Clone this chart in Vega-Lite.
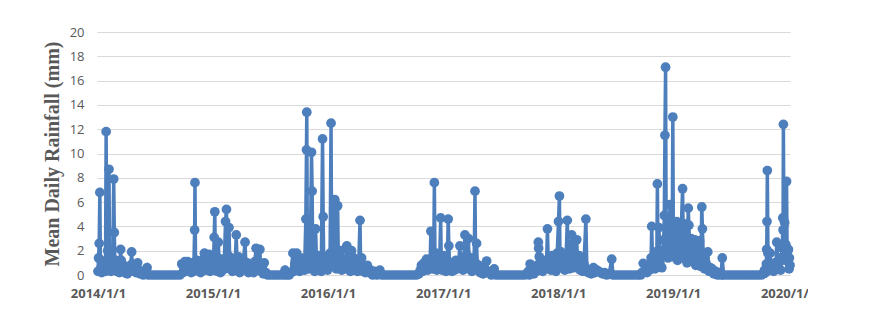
{
  "$schema": "https://vega.github.io/schema/vega-lite/v6.json",
  "width": 693,
  "height": 243,
  "autosize": {"type": "none"},
  "padding": {"left": 97, "top": 32, "right": 18, "bottom": 60},
  "background": "white",
  "config": {"view": {"stroke": null}},
  "data": {"values": [
    {"d":"2014-01-01","v":0.3},{"d":"2014-01-03","v":1.4},{"d":"2014-01-05","v":2.6},{"d":"2014-01-07","v":6.8},{"d":"2014-01-09","v":0.5},{"d":"2014-01-11","v":1.2},{"d":"2014-01-13","v":0.2},{"d":"2014-01-16","v":0.8},{"d":"2014-01-19","v":0.4},{"d":"2014-01-22","v":1.0},{"d":"2014-01-25","v":0.3},{"d":"2014-01-27","v":11.8},{"d":"2014-01-29","v":0.6},{"d":"2014-02-01","v":2.0},{"d":"2014-02-03","v":0.4},{"d":"2014-02-05","v":8.7},{"d":"2014-02-07","v":0.9},{"d":"2014-02-09","v":1.5},{"d":"2014-02-11","v":0.3},{"d":"2014-02-14","v":1.1},{"d":"2014-02-17","v":0.5},{"d":"2014-02-20","v":7.9},{"d":"2014-02-22","v":3.5},{"d":"2014-02-24","v":0.7},{"d":"2014-02-27","v":1.2},{"d":"2014-03-02","v":0.3},{"d":"2014-03-06","v":0.9},{"d":"2014-03-10","v":0.2},{"d":"2014-03-14","v":2.1},{"d":"2014-03-16","v":1.2},{"d":"2014-03-19","v":0.4},{"d":"2014-03-23","v":0.8},{"d":"2014-03-27","v":0.2},{"d":"2014-03-31","v":0.6},{"d":"2014-04-04","v":0.1},{"d":"2014-04-08","v":0.5},{"d":"2014-04-12","v":0.3},{"d":"2014-04-15","v":0.8},{"d":"2014-04-18","v":1.9},{"d":"2014-04-20","v":0.9},{"d":"2014-04-24","v":0.3},{"d":"2014-04-28","v":0.6},{"d":"2014-05-02","v":0.2},{"d":"2014-05-07","v":1.0},{"d":"2014-05-11","v":0.4},{"d":"2014-05-15","v":0.1},{"d":"2014-05-20","v":0.3},{"d":"2014-05-25","v":0.0},{"d":"2014-05-30","v":0.2},{"d":"2014-06-06","v":0.6},{"d":"2014-06-10","v":0.0},
    {"d":"2014-06-20","v":0},{"d":"2014-06-30","v":0},{"d":"2014-07-10","v":0},{"d":"2014-07-20","v":0},{"d":"2014-07-30","v":0},{"d":"2014-08-09","v":0},{"d":"2014-08-19","v":0},{"d":"2014-08-29","v":0},{"d":"2014-09-08","v":0},{"d":"2014-09-18","v":0},
    {"d":"2014-09-24","v":0.9},{"d":"2014-09-28","v":0.2},{"d":"2014-10-02","v":0.5},{"d":"2014-10-04","v":1.1},{"d":"2014-10-07","v":0.3},{"d":"2014-10-10","v":0.6},{"d":"2014-10-13","v":1.1},{"d":"2014-10-16","v":0.4},{"d":"2014-10-20","v":0.8},{"d":"2014-10-24","v":0.2},{"d":"2014-10-28","v":1.0},{"d":"2014-11-01","v":0.3},{"d":"2014-11-04","v":3.7},{"d":"2014-11-05","v":7.6},{"d":"2014-11-07","v":0.5},{"d":"2014-11-11","v":1.2},{"d":"2014-11-15","v":0.4},{"d":"2014-11-19","v":1.0},{"d":"2014-11-23","v":0.2},{"d":"2014-11-27","v":1.2},{"d":"2014-12-01","v":0.6},{"d":"2014-12-05","v":1.8},{"d":"2014-12-08","v":0.4},{"d":"2014-12-12","v":1.3},{"d":"2014-12-16","v":0.7},{"d":"2014-12-20","v":1.7},{"d":"2014-12-23","v":0.3},{"d":"2014-12-27","v":1.0},{"d":"2014-12-30","v":0.4},
    {"d":"2015-01-03","v":1.4},{"d":"2015-01-05","v":3.1},{"d":"2015-01-07","v":5.2},{"d":"2015-01-09","v":0.6},{"d":"2015-01-12","v":1.5},{"d":"2015-01-15","v":0.3},{"d":"2015-01-18","v":2.7},{"d":"2015-01-21","v":0.8},{"d":"2015-01-25","v":0.2},{"d":"2015-01-29","v":1.3},{"d":"2015-02-02","v":0.4},{"d":"2015-02-06","v":1.0},{"d":"2015-02-10","v":4.4},{"d":"2015-02-13","v":5.4},{"d":"2015-02-15","v":0.9},{"d":"2015-02-18","v":1.6},{"d":"2015-02-21","v":3.9},{"d":"2015-02-24","v":0.5},{"d":"2015-02-28","v":1.4},{"d":"2015-03-04","v":0.3},{"d":"2015-03-08","v":1.1},{"d":"2015-03-12","v":0.4},{"d":"2015-03-16","v":3.3},{"d":"2015-03-19","v":0.8},{"d":"2015-03-23","v":1.5},{"d":"2015-03-27","v":0.2},{"d":"2015-03-31","v":0.9},{"d":"2015-04-04","v":0.4},{"d":"2015-04-08","v":1.2},{"d":"2015-04-13","v":2.7},{"d":"2015-04-16","v":0.5},{"d":"2015-04-20","v":1.0},{"d":"2015-04-24","v":0.2},{"d":"2015-04-28","v":0.7},{"d":"2015-05-02","v":0.3},{"d":"2015-05-06","v":0.9},{"d":"2015-05-10","v":0.2},{"d":"2015-05-14","v":1.1},{"d":"2015-05-18","v":2.2},{"d":"2015-05-21","v":0.5},{"d":"2015-05-25","v":0.8},{"d":"2015-05-30","v":2.1},{"d":"2015-06-02","v":0.3},{"d":"2015-06-06","v":0.6},{"d":"2015-06-10","v":0.1},{"d":"2015-06-13","v":1.0},{"d":"2015-06-18","v":0.2},{"d":"2015-06-24","v":0.0},
    {"d":"2015-07-04","v":0},{"d":"2015-07-14","v":0},{"d":"2015-07-24","v":0},{"d":"2015-08-03","v":0},{"d":"2015-08-13","v":0},{"d":"2015-08-18","v":0.4},{"d":"2015-08-23","v":0},{"d":"2015-08-31","v":0},{"d":"2015-09-06","v":0.2},
    {"d":"2015-09-12","v":1.8},{"d":"2015-09-15","v":0.3},{"d":"2015-09-18","v":0.9},{"d":"2015-09-21","v":0.4},{"d":"2015-09-24","v":1.8},{"d":"2015-09-27","v":0.6},{"d":"2015-09-30","v":1.0},{"d":"2015-10-03","v":0.3},{"d":"2015-10-07","v":1.4},{"d":"2015-10-11","v":0.5},{"d":"2015-10-15","v":1.2},{"d":"2015-10-19","v":0.4},{"d":"2015-10-23","v":4.6},{"d":"2015-10-25","v":10.3},{"d":"2015-10-26","v":13.4},{"d":"2015-10-28","v":0.8},{"d":"2015-10-31","v":1.6},{"d":"2015-11-03","v":0.5},{"d":"2015-11-06","v":1.3},{"d":"2015-11-10","v":10.1},{"d":"2015-11-12","v":6.9},{"d":"2015-11-14","v":0.9},{"d":"2015-11-17","v":1.5},{"d":"2015-11-20","v":0.3},{"d":"2015-11-23","v":3.8},{"d":"2015-11-26","v":1.0},{"d":"2015-11-29","v":0.4},{"d":"2015-12-02","v":1.6},{"d":"2015-12-05","v":0.6},{"d":"2015-12-08","v":1.2},{"d":"2015-12-11","v":0.3},{"d":"2015-12-15","v":11.2},{"d":"2015-12-17","v":4.8},{"d":"2015-12-19","v":0.7},{"d":"2015-12-22","v":1.4},{"d":"2015-12-25","v":0.5},{"d":"2015-12-28","v":1.1},{"d":"2015-12-31","v":0.4},
    {"d":"2016-01-03","v":1.6},{"d":"2016-01-06","v":0.8},{"d":"2016-01-08","v":1.8},{"d":"2016-01-11","v":12.5},{"d":"2016-01-13","v":0.9},{"d":"2016-01-16","v":1.5},{"d":"2016-01-20","v":3.8},{"d":"2016-01-23","v":6.2},{"d":"2016-01-25","v":1.2},{"d":"2016-01-28","v":0.5},{"d":"2016-02-01","v":5.7},{"d":"2016-02-03","v":1.4},{"d":"2016-02-06","v":0.6},{"d":"2016-02-09","v":1.1},{"d":"2016-02-11","v":2.0},{"d":"2016-02-14","v":0.4},{"d":"2016-02-18","v":1.3},{"d":"2016-02-22","v":0.5},{"d":"2016-02-26","v":1.0},{"d":"2016-03-01","v":2.4},{"d":"2016-03-04","v":0.6},{"d":"2016-03-08","v":1.2},{"d":"2016-03-12","v":0.3},{"d":"2016-03-16","v":2.0},{"d":"2016-03-19","v":0.8},{"d":"2016-03-23","v":1.4},{"d":"2016-03-27","v":0.4},{"d":"2016-03-31","v":0.9},{"d":"2016-04-04","v":0.3},{"d":"2016-04-08","v":1.1},{"d":"2016-04-12","v":4.5},{"d":"2016-04-14","v":0.6},{"d":"2016-04-17","v":1.4},{"d":"2016-04-21","v":0.3},{"d":"2016-04-25","v":0.7},{"d":"2016-04-29","v":0.2},{"d":"2016-05-05","v":0.8},{"d":"2016-05-10","v":0.2},{"d":"2016-05-16","v":0.4},{"d":"2016-05-22","v":0.0},{"d":"2016-05-28","v":0.3},{"d":"2016-06-05","v":0.0},{"d":"2016-06-14","v":0.4},{"d":"2016-06-20","v":0.0},
    {"d":"2016-06-30","v":0},{"d":"2016-07-10","v":0},{"d":"2016-07-20","v":0},{"d":"2016-07-30","v":0},{"d":"2016-08-09","v":0},{"d":"2016-08-19","v":0},{"d":"2016-08-29","v":0},{"d":"2016-09-08","v":0},{"d":"2016-09-18","v":0},{"d":"2016-09-28","v":0},{"d":"2016-10-08","v":0},
    {"d":"2016-10-16","v":0.1},{"d":"2016-10-20","v":0.4},{"d":"2016-10-24","v":0.8},{"d":"2016-10-28","v":0.3},{"d":"2016-11-01","v":1.0},{"d":"2016-11-05","v":0.5},{"d":"2016-11-09","v":1.3},{"d":"2016-11-13","v":0.4},{"d":"2016-11-17","v":1.1},{"d":"2016-11-20","v":0.6},{"d":"2016-11-23","v":3.6},{"d":"2016-11-26","v":1.4},{"d":"2016-11-29","v":0.5},{"d":"2016-12-02","v":1.6},{"d":"2016-12-04","v":7.6},{"d":"2016-12-06","v":0.9},{"d":"2016-12-09","v":1.8},{"d":"2016-12-12","v":0.4},{"d":"2016-12-15","v":1.5},{"d":"2016-12-18","v":0.7},{"d":"2016-12-21","v":1.2},{"d":"2016-12-24","v":4.7},{"d":"2016-12-26","v":1.0},{"d":"2016-12-29","v":0.4},
    {"d":"2017-01-01","v":1.6},{"d":"2017-01-04","v":0.8},{"d":"2017-01-07","v":1.4},{"d":"2017-01-10","v":0.3},{"d":"2017-01-14","v":1.2},{"d":"2017-01-17","v":4.6},{"d":"2017-01-19","v":2.4},{"d":"2017-01-22","v":0.6},{"d":"2017-01-25","v":1.0},{"d":"2017-01-29","v":0.3},{"d":"2017-02-02","v":0.9},{"d":"2017-02-06","v":0.4},{"d":"2017-02-10","v":1.2},{"d":"2017-02-14","v":0.5},{"d":"2017-02-19","v":1.0},{"d":"2017-02-23","v":2.4},{"d":"2017-02-26","v":0.7},{"d":"2017-03-01","v":1.3},{"d":"2017-03-05","v":0.4},{"d":"2017-03-08","v":1.5},{"d":"2017-03-11","v":3.3},{"d":"2017-03-14","v":0.9},{"d":"2017-03-18","v":1.6},{"d":"2017-03-22","v":3.0},{"d":"2017-03-25","v":0.5},{"d":"2017-03-29","v":1.1},{"d":"2017-04-02","v":0.3},{"d":"2017-04-06","v":1.4},{"d":"2017-04-09","v":0.6},{"d":"2017-04-12","v":6.9},{"d":"2017-04-14","v":1.0},{"d":"2017-04-17","v":2.6},{"d":"2017-04-20","v":0.4},{"d":"2017-04-24","v":0.8},{"d":"2017-04-28","v":0.2},{"d":"2017-05-03","v":0.6},{"d":"2017-05-08","v":0.1},{"d":"2017-05-13","v":0.4},{"d":"2017-05-19","v":1.15},{"d":"2017-05-23","v":0.2},{"d":"2017-05-28","v":0.3},{"d":"2017-06-03","v":0.0},{"d":"2017-06-12","v":0.5},{"d":"2017-06-18","v":0.0},
    {"d":"2017-06-28","v":0},{"d":"2017-07-08","v":0},{"d":"2017-07-18","v":0},{"d":"2017-07-28","v":0},{"d":"2017-08-07","v":0},{"d":"2017-08-17","v":0},{"d":"2017-08-27","v":0},{"d":"2017-09-06","v":0},{"d":"2017-09-16","v":0},{"d":"2017-09-24","v":0.1},
    {"d":"2017-09-28","v":0.3},{"d":"2017-10-01","v":0.0},{"d":"2017-10-04","v":0.9},{"d":"2017-10-08","v":0.2},{"d":"2017-10-12","v":0.5},{"d":"2017-10-16","v":0.1},{"d":"2017-10-20","v":0.6},{"d":"2017-10-24","v":0.3},{"d":"2017-10-27","v":0.8},{"d":"2017-10-30","v":2.7},{"d":"2017-10-31","v":2.2},{"d":"2017-11-02","v":1.5},{"d":"2017-11-05","v":0.4},{"d":"2017-11-09","v":1.0},{"d":"2017-11-13","v":0.3},{"d":"2017-11-17","v":1.2},{"d":"2017-11-21","v":0.5},{"d":"2017-11-25","v":0.9},{"d":"2017-11-28","v":3.8},{"d":"2017-12-01","v":0.6},{"d":"2017-12-05","v":1.3},{"d":"2017-12-09","v":0.4},{"d":"2017-12-13","v":1.6},{"d":"2017-12-17","v":0.7},{"d":"2017-12-21","v":1.2},{"d":"2017-12-25","v":0.3},{"d":"2017-12-29","v":1.8},
    {"d":"2018-01-02","v":4.4},{"d":"2018-01-05","v":6.5},{"d":"2018-01-07","v":1.0},{"d":"2018-01-10","v":1.9},{"d":"2018-01-14","v":0.6},{"d":"2018-01-18","v":1.5},{"d":"2018-01-22","v":0.4},{"d":"2018-01-26","v":1.3},{"d":"2018-01-30","v":4.5},{"d":"2018-02-02","v":1.1},{"d":"2018-02-06","v":0.5},{"d":"2018-02-09","v":1.8},{"d":"2018-02-13","v":3.3},{"d":"2018-02-16","v":2.4},{"d":"2018-02-20","v":0.6},{"d":"2018-02-24","v":1.4},{"d":"2018-03-01","v":2.9},{"d":"2018-03-04","v":0.7},{"d":"2018-03-08","v":1.6},{"d":"2018-03-12","v":0.4},{"d":"2018-03-16","v":1.1},{"d":"2018-03-20","v":0.3},{"d":"2018-03-24","v":0.9},{"d":"2018-03-30","v":4.6},{"d":"2018-04-02","v":0.5},{"d":"2018-04-06","v":0.2},{"d":"2018-04-11","v":0.4},{"d":"2018-04-16","v":0.1},{"d":"2018-04-23","v":0.6},{"d":"2018-04-28","v":0.2},{"d":"2018-05-04","v":0.4},{"d":"2018-05-10","v":0.3},{"d":"2018-05-16","v":0.2},{"d":"2018-05-22","v":0.1},{"d":"2018-05-28","v":0.2},{"d":"2018-06-04","v":0.0},{"d":"2018-06-12","v":0.1},{"d":"2018-06-20","v":1.3},{"d":"2018-06-24","v":0.0},
    {"d":"2018-07-04","v":0},{"d":"2018-07-14","v":0},{"d":"2018-07-24","v":0},{"d":"2018-08-03","v":0},{"d":"2018-08-13","v":0},{"d":"2018-08-23","v":0},{"d":"2018-09-02","v":0},{"d":"2018-09-12","v":0},{"d":"2018-09-20","v":0},
    {"d":"2018-09-24","v":0.2},{"d":"2018-09-28","v":0.96},{"d":"2018-10-02","v":0.3},{"d":"2018-10-06","v":0.6},{"d":"2018-10-10","v":0.2},{"d":"2018-10-14","v":0.8},{"d":"2018-10-18","v":0.4},{"d":"2018-10-21","v":0.9},{"d":"2018-10-23","v":1.4},{"d":"2018-10-25","v":4.0},{"d":"2018-10-28","v":0.7},{"d":"2018-11-01","v":1.5},{"d":"2018-11-04","v":0.5},{"d":"2018-11-08","v":1.9},{"d":"2018-11-10","v":0.8},{"d":"2018-11-12","v":7.5},{"d":"2018-11-14","v":1.2},{"d":"2018-11-17","v":3.9},{"d":"2018-11-20","v":1.0},{"d":"2018-11-23","v":2.0},{"d":"2018-11-26","v":0.6},{"d":"2018-11-29","v":1.8},{"d":"2018-12-02","v":2.9},{"d":"2018-12-04","v":4.9},{"d":"2018-12-06","v":11.5},{"d":"2018-12-08","v":17.1},{"d":"2018-12-10","v":2.0},{"d":"2018-12-13","v":3.0},{"d":"2018-12-16","v":1.4},{"d":"2018-12-19","v":2.6},{"d":"2018-12-22","v":5.8},{"d":"2018-12-24","v":1.8},{"d":"2018-12-27","v":4.2},{"d":"2018-12-29","v":2.0},{"d":"2018-12-31","v":13.0},
    {"d":"2019-01-02","v":1.5},{"d":"2019-01-05","v":4.2},{"d":"2019-01-08","v":2.2},{"d":"2019-01-12","v":4.4},{"d":"2019-01-15","v":1.2},{"d":"2019-01-19","v":4.2},{"d":"2019-01-22","v":2.0},{"d":"2019-01-26","v":3.2},{"d":"2019-01-31","v":7.1},{"d":"2019-02-03","v":1.4},{"d":"2019-02-06","v":4.2},{"d":"2019-02-10","v":2.0},{"d":"2019-02-14","v":1.0},{"d":"2019-02-18","v":5.5},{"d":"2019-02-20","v":4.1},{"d":"2019-02-23","v":1.6},{"d":"2019-02-27","v":3.0},{"d":"2019-03-03","v":1.1},{"d":"2019-03-07","v":2.6},{"d":"2019-03-11","v":2.9},{"d":"2019-03-14","v":0.8},{"d":"2019-03-18","v":2.4},{"d":"2019-03-22","v":1.2},{"d":"2019-03-26","v":2.8},{"d":"2019-03-30","v":0.7},{"d":"2019-04-02","v":5.6},{"d":"2019-04-04","v":3.8},{"d":"2019-04-07","v":1.3},{"d":"2019-04-11","v":0.5},{"d":"2019-04-15","v":1.0},{"d":"2019-04-21","v":1.9},{"d":"2019-04-25","v":0.3},{"d":"2019-04-29","v":0.6},{"d":"2019-05-05","v":0.5},{"d":"2019-05-10","v":0.1},{"d":"2019-05-16","v":0.3},{"d":"2019-05-22","v":0.0},{"d":"2019-05-28","v":0.2},{"d":"2019-06-02","v":0.0},{"d":"2019-06-06","v":1.4},{"d":"2019-06-10","v":0.0},
    {"d":"2019-06-20","v":0},{"d":"2019-06-30","v":0},{"d":"2019-07-10","v":0},{"d":"2019-07-20","v":0},{"d":"2019-07-30","v":0},{"d":"2019-08-09","v":0},{"d":"2019-08-19","v":0},{"d":"2019-08-29","v":0},{"d":"2019-09-08","v":0},{"d":"2019-09-18","v":0},{"d":"2019-09-28","v":0},{"d":"2019-10-08","v":0},
    {"d":"2019-10-14","v":0.1},{"d":"2019-10-18","v":0.4},{"d":"2019-10-22","v":0.2},{"d":"2019-10-24","v":0.9},{"d":"2019-10-25","v":2.1},{"d":"2019-10-26","v":4.4},{"d":"2019-10-27","v":8.6},{"d":"2019-10-29","v":1.8},{"d":"2019-11-01","v":0.6},{"d":"2019-11-05","v":1.8},{"d":"2019-11-08","v":0.4},{"d":"2019-11-12","v":0.9},{"d":"2019-11-16","v":0.3},{"d":"2019-11-20","v":1.0},{"d":"2019-11-23","v":0.5},{"d":"2019-11-26","v":2.7},{"d":"2019-11-29","v":1.1},{"d":"2019-12-02","v":0.6},{"d":"2019-12-05","v":1.4},{"d":"2019-12-08","v":0.4},{"d":"2019-12-11","v":1.2},{"d":"2019-12-14","v":2.2},{"d":"2019-12-15","v":4.7},{"d":"2019-12-16","v":3.7},{"d":"2019-12-17","v":12.4},{"d":"2019-12-19","v":1.6},{"d":"2019-12-21","v":4.3},{"d":"2019-12-23","v":1.2},{"d":"2019-12-25","v":2.5},{"d":"2019-12-27","v":7.7},{"d":"2019-12-29","v":1.4},{"d":"2019-12-31","v":2.0},{"d":"2020-01-02","v":2.1},{"d":"2020-01-04","v":0.5},{"d":"2020-01-05","v":1.4},{"d":"2020-01-07","v":0.8}
  ]},
  "mark": {"type": "line", "color": "#4e7fbd", "strokeWidth": 3.5, "point": {"filled": true, "size": 95, "color": "#4e7fbd", "opacity": 1}},
  "encoding": {
    "x": {
      "field": "d", "type": "temporal",
      "scale": {"type": "utc", "domain": [{"year": 2013, "month": 12, "date": 29, "utc": true}, {"year": 2020, "month": 1, "date": 7, "utc": true}]},
      "axis": {
        "title": null,
        "values": [{"year": 2014, "month": 1, "date": 1, "utc": true}, {"year": 2015, "month": 1, "date": 1, "utc": true}, {"year": 2016, "month": 1, "date": 1, "utc": true}, {"year": 2017, "month": 1, "date": 1, "utc": true}, {"year": 2018, "month": 1, "date": 1, "utc": true}, {"year": 2019, "month": 1, "date": 1, "utc": true}, {"year": 2020, "month": 1, "date": 1, "utc": true}],
        "labelExpr": "utcFormat(datum.value, '%Y/%-m/%-d')",
        "grid": false, "ticks": false, "domain": true, "domainColor": "#d9d9d9", "domainWidth": 1,
        "labelPadding": 12, "labelFont": "Open Sans", "labelFontSize": 13, "labelFontWeight": "bold", "labelColor": "#595959", "labelFlush": false, "labelOverlap": false
      }
    },
    "y": {
      "field": "v", "type": "quantitative",
      "scale": {"domain": [0, 20], "nice": false},
      "axis": {
        "title": "Mean Daily Rainfall (mm)",
        "values": [0, 2, 4, 6, 8, 10, 12, 14, 16, 18, 20],
        "grid": true, "gridColor": "#d9d9d9", "gridWidth": 1,
        "ticks": false, "domain": false,
        "labelPadding": 13, "labelFont": "Open Sans", "labelFontSize": 13, "labelColor": "#595959",
        "titleFont": "Liberation Serif", "titleFontSize": 20, "titleFontWeight": "bold", "titleColor": "#595959", "titlePadding": 7
      }
    }
  }
}
